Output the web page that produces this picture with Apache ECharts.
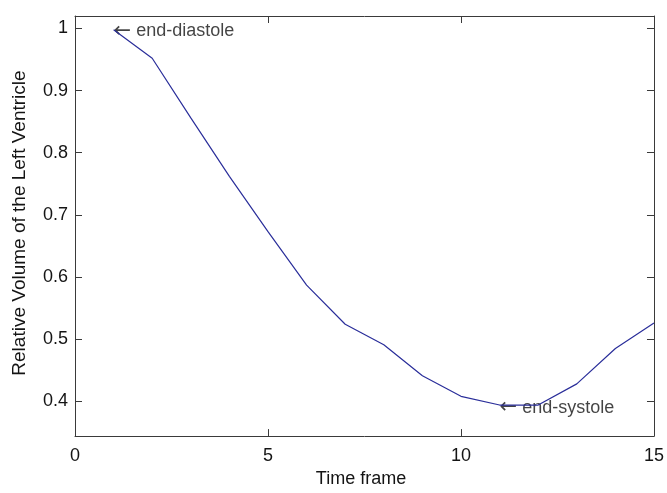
<!DOCTYPE html>
<html>
<head>
<meta charset="utf-8">
<script src="https://cdn.jsdelivr.net/npm/echarts@6.0.0/dist/echarts.min.js"></script>
<style>
  html, body { margin: 0; padding: 0; background: #fff; }
  #main { width: 667px; height: 493px; }
</style>
</head>
<body>
<div id="main"></div>
<script>
// time frames 1..15 and relative LV volume
var frames = [1, 2, 3, 4, 5, 6, 7, 8, 9, 10, 11, 12, 13, 14, 15];
var volume = [0.998, 0.952, 0.856, 0.762, 0.673, 0.587, 0.524, 0.491, 0.441, 0.408, 0.394, 0.394, 0.428, 0.485, 0.526];
var yTicks = [0.4, 0.5, 0.6, 0.7, 0.8, 0.9, 1];
var notes = [
    { name: 'end-diastole', x: 1, y: 1 },
    { name: 'end-systole', x: 11, y: 0.394 }
];

var myChart = echarts.init(document.getElementById('main'));

var font = '"Liberation Sans", Arial, "DejaVu Sans", sans-serif';
var axisColor = '#3a3a3a';
var textColor = '#141414';

function boxLine() {
    return { show: true, onZero: false, lineStyle: { color: axisColor, width: 1 } };
}
function boxTick(vals) {
    var t = { show: true, inside: true, length: 7, lineStyle: { color: axisColor } };
    if (vals) t.customValues = vals;
    return t;
}

var option = {
    backgroundColor: '#fff',
    animation: false,
    grid: { left: 75, right: 11, top: 16, bottom: 50 },
    xAxis: [{
        type: 'value',
        min: 0, max: 15, interval: 5,
        name: 'Time frame',
        nameLocation: 'middle',
        nameGap: 33,
        nameTextStyle: { fontFamily: font, fontSize: 18, color: textColor, padding: [0, 7, 0, 0] },
        axisLine: boxLine(),
        axisTick: boxTick(),
        splitLine: { show: false },
        axisLabel: { fontFamily: font, fontSize: 18, color: textColor, margin: 11 }
    }, {
        type: 'value',
        position: 'top',
        min: 0, max: 15, interval: 5,
        axisLine: boxLine(),
        axisTick: boxTick(),
        splitLine: { show: false },
        axisLabel: { show: false }
    }],
    yAxis: [{
        type: 'value',
        min: 0.344, max: 1.02,
        name: 'Relative Volume of the Left Ventricle',
        nameLocation: 'middle',
        nameGap: 46,
        nameTextStyle: { fontFamily: font, fontSize: 19, color: textColor, padding: [0, 0, 0, 6] },
        axisLine: boxLine(),
        axisTick: boxTick(yTicks),
        splitLine: { show: false },
        axisLabel: { fontFamily: font, fontSize: 18, color: textColor, margin: 7, customValues: yTicks }
    }, {
        type: 'value',
        position: 'right',
        min: 0.344, max: 1.02,
        axisLine: boxLine(),
        axisTick: boxTick(yTicks),
        splitLine: { show: false },
        axisLabel: { show: false }
    }],
    series: [{
        type: 'line',
        data: frames.map(function (f, i) { return [f, volume[i]]; }),
        showSymbol: false,
        symbol: 'none',
        lineStyle: { color: '#2a2e9a', width: 1.2 },
        silent: true
    }, {
        type: 'scatter',
        symbolSize: 0,
        data: notes.map(function (n) { return { name: n.name, value: [n.x, n.y] }; }),
        label: {
            show: true,
            position: 'right',
            distance: 0,
            offset: [0, 3],
            formatter: function (p) { return '{a|\u2190}{t| ' + p.name + '}'; },
            rich: {
                a: { fontFamily: '"DejaVu Sans", sans-serif', fontSize: 21, color: textColor },
                t: { fontFamily: font, fontSize: 18, color: textColor }
            }
        },
        silent: true
    }]
};

myChart.setOption(option);
</script>
</body>
</html>
